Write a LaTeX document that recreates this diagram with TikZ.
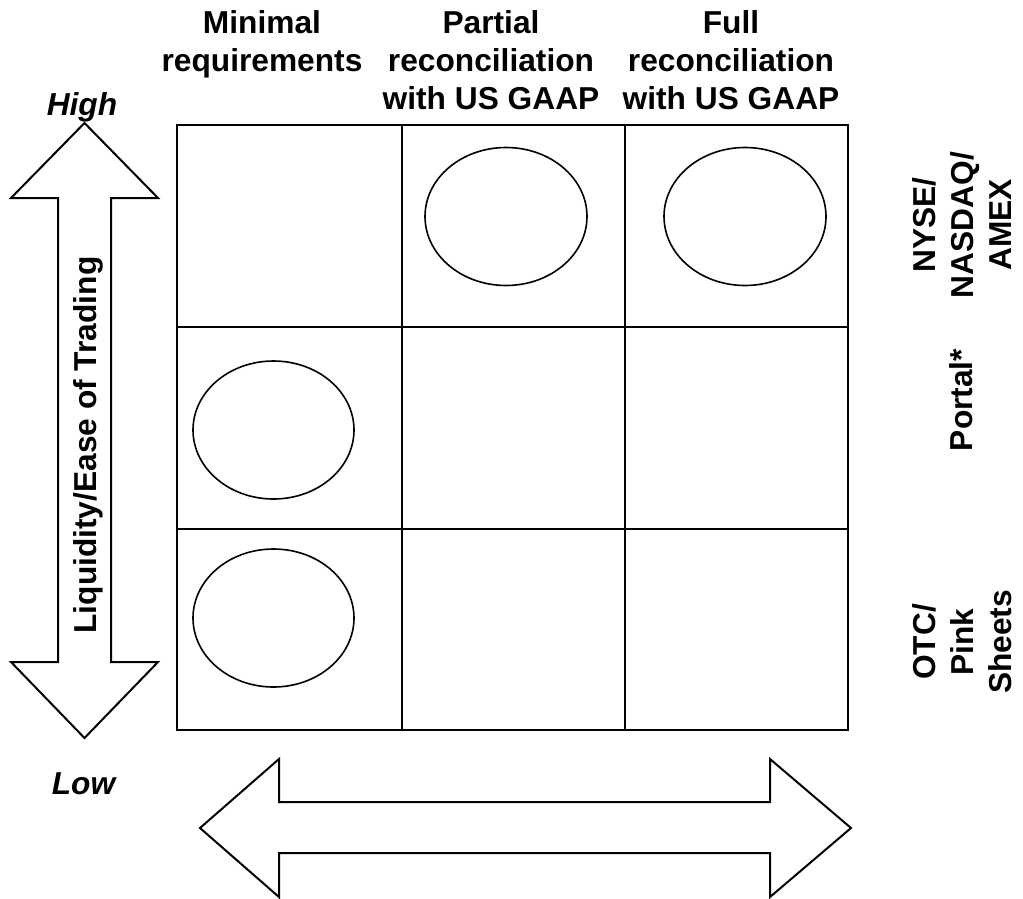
\documentclass[tikz,border=0pt]{standalone}
\usepackage{fontspec}
\setmainfont{Liberation Sans}
\begin{document}
\begin{tikzpicture}[x=1pt,y=-1pt,line join=miter,
  lbl/.style={font=\fontsize{31.7}{38}\selectfont\bfseries,inner sep=0pt,align=center},
  ilbl/.style={font=\fontsize{31.7}{38}\selectfont\bfseries\itshape,inner sep=0pt},
  gridline/.style={line width=2pt},
  oval/.style={line width=1.6pt},
  bigarrow/.style={line width=2pt,fill=white}]
\useasboundingbox (0,0) rectangle (1023,898);
% column headings
\node[lbl,anchor=north] (h1) at (262,10) {Minimal\\requirements};
\node[lbl,anchor=north] (h2) at (491,10) {Partial\\reconciliation\\with US GAAP};
\node[lbl,anchor=north] (h3) at (731,10) {Full\\reconciliation\\with US GAAP};
% grid
\draw[gridline] (177,125) rectangle (848,730);
\draw[gridline] (401.5,125) -- (401.5,730);
\draw[gridline] (625,125) -- (625,730);
\draw[gridline] (177,327) -- (848,327);
\draw[gridline] (177,529) -- (848,529);
% ellipses
\draw[oval] (506,216.5) ellipse [x radius=81,y radius=69];
\draw[oval] (745,216.5) ellipse [x radius=81,y radius=69];
\draw[oval] (273.5,430) ellipse [x radius=80.5,y radius=69];
\draw[oval] (273.5,618) ellipse [x radius=80.5,y radius=69];
% vertical double arrow
\draw[bigarrow] (84.5,123) -- (158,198) -- (111,198) -- (111,662) -- (158,662) -- (84.5,738)
  -- (11,662) -- (58,662) -- (58,198) -- (11,198) -- cycle;
\node[lbl,rotate=90] (liq) at (88,445) {Liquidity/Ease of Trading};
\node[ilbl,anchor=base] (high) at (82,115) {High};
\node[ilbl,anchor=base] (low) at (83.5,794) {Low};
% horizontal double arrow
\draw[bigarrow] (200,828) -- (279,759) -- (279,802) -- (770,802) -- (770,759) -- (851,828)
  -- (770,897) -- (770,853) -- (279,853) -- (279,897) -- cycle;
% row labels
\node[lbl,rotate=90] (r1) at (962,225) {NYSE/\\NASDAQ/\\AMEX};
\node[lbl,rotate=90] (r2) at (961.5,400) {Portal*};
\node[lbl,rotate=90] (r3) at (962,642) {OTC/\\Pink\\Sheets};
\end{tikzpicture}
\end{document}
